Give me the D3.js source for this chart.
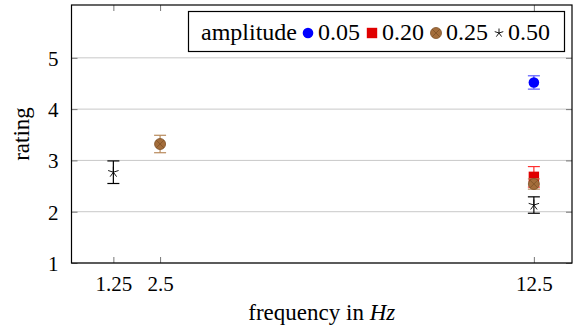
<!DOCTYPE html>
<html lang="en">
<head>
	<meta charset="utf-8">
	<script src="https://d3js.org/d3.v7.min.js"></script>
	<style type="text/css">
		body { margin: 0; background: white; }
		text { font-family: "Liberation Serif", "DejaVu Serif", serif; fill: black; }
	</style>
	<title>rating vs frequency</title>
</head>
<body>
	<script type="text/javascript">
		// data
		var xTicks = [1.25, 2.5, 12.5];
		var xTickLabels = ["1.25", "2.5", "12.5"];
		var yTicks = [1, 2, 3, 4, 5];
		var amplitudes = ["0.05", "0.20", "0.25", "0.50"];
		var freq005 = [12.5], rating005 = [4.52], err005 = [0.13];
		var freq020 = [12.5], rating020 = [2.68], err020 = [0.2];
		var freq025 = [2.5, 12.5], rating025 = [3.32, 2.54], err025 = [0.17, 0.1];
		var freq050 = [1.25, 12.5], rating050 = [2.77, 2.13], err050 = [0.22, 0.16];

		var w = 574, h = 329;
		var pLeft = 71.5, pRight = 572, pTop = 5, pBottom = 263;

		var svg = d3.select("body").append("svg")
			.attr("width", w)
			.attr("height", h);

		var x = d3.scaleLinear().domain([0.13, 13.52]).range([pLeft, pRight]);
		var y = d3.scaleLinear().domain([1, 6.03]).range([pBottom, pTop]);

		//grid lines
		svg.append("g").selectAll("line")
			.data(yTicks).enter().append("line")
			.attr("x1", pLeft).attr("x2", pRight)
			.attr("y1", d => y(d)).attr("y2", d => y(d))
			.attr("stroke", "#c8c8c8").attr("stroke-width", 1);

		//axes with inner ticks
		var xBottom = svg.append("g").attr("transform", "translate(0," + pBottom + ")")
			.call(d3.axisBottom(x).tickValues(xTicks).tickSize(-6).tickFormat((d, i) => xTickLabels[i]));
		xBottom.selectAll("text").attr("y", 12).attr("dy", "0.75em").attr("font-size", 21);
		svg.append("g").attr("transform", "translate(0," + pTop + ")")
			.call(d3.axisTop(x).tickValues(xTicks).tickSize(-6).tickFormat(""));
		var yLeft = svg.append("g").attr("transform", "translate(" + pLeft + ",0)")
			.call(d3.axisLeft(y).tickValues(yTicks).tickSize(-6).tickFormat(d3.format("d")));
		yLeft.selectAll("text").attr("x", -13).attr("dy", "0.36em").attr("font-size", 21);
		svg.append("g").attr("transform", "translate(" + pRight + ",0)")
			.call(d3.axisRight(y).tickValues(yTicks).tickSize(-6).tickFormat(""));
		svg.selectAll(".domain").remove();
		svg.selectAll(".tick line").attr("stroke", "#777");
		svg.selectAll("text").attr("font-family", "Liberation Serif");

		svg.append("rect")
			.attr("x", pLeft).attr("y", pTop)
			.attr("width", pRight - pLeft).attr("height", pBottom - pTop)
			.attr("fill", "none").attr("stroke", "black").attr("stroke-width", 1.2);

		//axis labels
		var xl = svg.append("text")
			.attr("x", (pLeft + pRight) / 2).attr("y", 320)
			.attr("text-anchor", "middle").attr("font-size", 23);
		xl.append("tspan").text("frequency in ");
		xl.append("tspan").attr("font-style", "italic").text("Hz");

		svg.append("text")
			.attr("transform", "translate(29," + ((pTop + pBottom) / 2) + ") rotate(-90)")
			.attr("text-anchor", "middle").attr("font-size", 23)
			.text("rating");

		//markers
		function circle(g, fill) {
			g.append("circle").attr("r", 5.3).attr("fill", fill);
		}
		function square(g, fill) {
			g.append("rect").attr("x", -5.2).attr("y", -5.2).attr("width", 10.4).attr("height", 10.4).attr("fill", fill);
		}
		function otimes(g) {
			g.append("circle").attr("r", 5.5).attr("fill", "#a36d3b").attr("stroke", "#7d5026").attr("stroke-width", 0.8);
			var r = 5.5 * Math.SQRT1_2;
			g.append("path").attr("d", "M" + (-r) + "," + (-r) + "L" + r + "," + r + "M" + r + "," + (-r) + "L" + (-r) + "," + r)
				.attr("stroke", "#7d5026").attr("stroke-width", 0.8);
		}
		function star(g, fill, size) {
			var s = size || 5.5, d = "";
			for (var k = 0; k < 5; k++) {
				var a = -Math.PI / 2 + k * 2 * Math.PI / 5;
				d += "M0,0L" + (s * Math.cos(a)) + "," + (s * Math.sin(a));
			}
			g.append("path").attr("d", d).attr("stroke", "black").attr("stroke-width", 0.9).attr("fill", "none");
		}

		function drawSeries(freqs, ratings, errs, errColor, marker, fill) {
			var g = svg.append("g");
			freqs.forEach(function(f, i) {
				var cx = x(f), lo = y(ratings[i] - errs[i]), hi = y(ratings[i] + errs[i]);
				var e = g.append("g").attr("stroke", errColor).attr("stroke-width", 1.2);
				e.append("line").attr("x1", cx).attr("x2", cx).attr("y1", lo).attr("y2", hi);
				e.append("line").attr("x1", cx - 6).attr("x2", cx + 6).attr("y1", lo).attr("y2", lo);
				e.append("line").attr("x1", cx - 6).attr("x2", cx + 6).attr("y1", hi).attr("y2", hi);
				var m = g.append("g").attr("transform", "translate(" + cx + "," + y(ratings[i]) + ")");
				marker(m, fill);
			});
		}

		drawSeries(freq005, rating005, err005, "#5a5aff", circle, "#0000ff");
		drawSeries(freq020, rating020, err020, "#ff3030", square, "#e00000");
		drawSeries(freq025, rating025, err025, "#b88a5c", otimes);
		drawSeries(freq050, rating050, err050, "black", star);

		//legend
		var lg = svg.append("g");
		lg.append("rect").attr("x", 188.5).attr("y", 11.5).attr("width", 376).attr("height", 40)
			.attr("fill", "white").attr("stroke", "black").attr("stroke-width", 1.2);
		var baseline = 40;
		lg.append("text").attr("x", 201).attr("y", baseline).attr("font-size", 24).text("amplitude");
		var markerX = [308, 372, 436, 499];
		var textX = [318, 382, 446, 508];
		var markers = [
			function(g) { circle(g, "#0000ff"); },
			function(g) { square(g, "#e00000"); },
			function(g) { otimes(g); },
			function(g) { star(g, null, 4.5); }
		];
		amplitudes.forEach(function(a, i) {
			var m = lg.append("g").attr("transform", "translate(" + markerX[i] + "," + (baseline - 7) + ")");
			markers[i](m);
			lg.append("text").attr("x", textX[i]).attr("y", baseline).attr("font-size", 24).text(a);
		});
	</script>
</body>
</html>
